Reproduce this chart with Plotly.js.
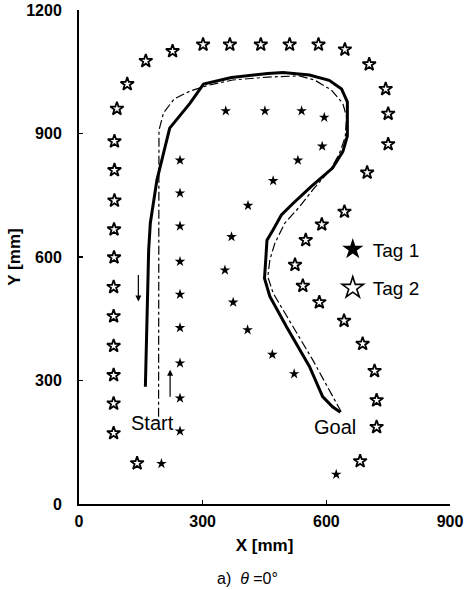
<!DOCTYPE html>
<html>
<head>
<meta charset="utf-8">
<script src="https://cdn.plot.ly/plotly-3.0.1.min.js"></script>
<style>html,body{margin:0;padding:0;background:#fff;}#chart{width:469px;height:590px;}</style>
</head>
<body>
<div id="chart"></div>
<script>
// Tag 1 (filled stars, inner row)
const tag1X = [200,245,245,245,245,245,245,245,245,245,356,451,540,595,590,531,471,410,370,354,374,409,469,522,624];
const tag1Y = [98,177,257,342,428,509,589,675,755,835,955,955,955,939,869,835,785,725,649,568,490,423,363,316,72];
// Tag 2 (open stars, outer row)
const tag2X = [141,84,84,84,84,84,84,85,85,86,86,86,92,117,162,227,301,366,441,511,581,645,704,744,750,750,699,644,589,550,524,543,583,643,688,717,722,722,682];
const tag2Y = [99,172,244,313,384,456,527,599,667,737,811,881,960,1020,1076,1100,1116,1116,1116,1116,1116,1104,1068,1008,948,874,805,710,679,641,581,530,490,445,389,323,252,187,104];
// Solid path (actual trajectory)
const pathX = [161,165,169,173,189,220,269,302,370,458,495,559,607,637,651,651,640,615,563,519,491,471,456,453,450,463,503,559,591,615,634];
const pathY = [285,455,617,682,787,913,973,1020,1036,1046,1048,1042,1029,1008,977,894,856,816,771,730,702,666,641,593,548,504,431,334,261,236,223];
// Dash-dot path
const refX = [193,193,194,205,231,269,313,373,458,535,571,612,640,649,646,632,612,567,535,499,475,463,458,471,519,567,636];
const refY = [212,763,908,950,984,1003,1017,1030,1037,1040,1030,1006,973,941,892,852,815,763,722,682,633,593,552,512,431,350,224];
// Axis ticks
const xTicks = [0,300,600,900];
const yTicks = [0,300,600,900,1200];
// Labels
const legendNames = ["Tag 1","Tag 2"];
const textLabels = [{t:"Start",x:179,y:197},{t:"Goal",x:622,y:187}];
const arrowsDef = [{x:144,y:492,ax:144,ay:560},{x:221,y:326,ax:221,ay:257}];

const font = "Liberation Sans, Arial, sans-serif";
const traces = [
  {x:pathX,y:pathY,mode:'lines',line:{color:'#000',width:3},showlegend:false,hoverinfo:'skip'},
  {x:refX,y:refY,mode:'lines',line:{color:'#000',width:1.2,dash:'dashdot'},showlegend:false,hoverinfo:'skip'},
  {x:tag1X,y:tag1Y,mode:'markers',marker:{symbol:'star',size:8,color:'#000'},showlegend:false},
  {x:tag2X,y:tag2Y,mode:'markers',marker:{symbol:'star-open',size:10,color:'#000',line:{width:1.8}},showlegend:false},
  {x:[null],y:[null],mode:'markers',name:legendNames[0],legendgroup:'a',marker:{symbol:'star',size:17,color:'#000'}},
  {x:[null],y:[null],mode:'markers',name:legendNames[1],legendgroup:'b',marker:{symbol:'star-open',size:17,color:'#000',line:{width:1.6}}}
];

const annotations = textLabels.map(l=>({x:l.x,y:l.y,xref:'x',yref:'y',text:l.t,showarrow:false,font:{family:font,size:20,color:'#000'}}));
arrowsDef.forEach(a=>annotations.push({x:a.x,y:a.y,ax:a.ax,ay:a.ay,xref:'x',yref:'y',axref:'x',ayref:'y',text:'',showarrow:true,arrowhead:2,arrowsize:1,arrowwidth:1.2,arrowcolor:'#000'}));
annotations.push({xref:'paper',yref:'paper',x:0.455,y:-0.15,yanchor:'middle',text:'a)&nbsp;&nbsp;<i>θ</i> =0°',showarrow:false,font:{family:font,size:16,color:'#000'}});

const layout = {
  width:469,height:590,
  margin:{l:78.5,r:18.5,t:10,b:86,pad:0},
  paper_bgcolor:'#fff',plot_bgcolor:'#fff',
  font:{family:font,color:'#000'},
  xaxis:{range:[0,900],tickvals:xTicks,ticks:'inside',ticklen:4,tickwidth:1.5,tickcolor:'#000',
    showline:true,linecolor:'#000',linewidth:2,showgrid:false,zeroline:false,
    tickfont:{family:font,size:16,weight:'bold',color:'#000'},ticklabelstandoff:2,
    title:{text:'X [mm]',font:{family:font,size:17,weight:'bold',color:'#000'},standoff:10}},
  yaxis:{range:[0,1200],tickvals:yTicks,ticks:'inside',ticklen:4,tickwidth:1.5,tickcolor:'#000',
    showline:true,linecolor:'#000',linewidth:2,showgrid:false,zeroline:false,
    tickfont:{family:font,size:16,weight:'bold',color:'#000'},ticklabelstandoff:12,
    title:{text:'Y [mm]',font:{family:font,size:17,weight:'bold',color:'#000'},standoff:1}},
  showlegend:true,
  legend:{x:0.684,y:0.554,xanchor:'left',yanchor:'top',bgcolor:'rgba(0,0,0,0)',font:{family:font,size:19,color:'#000'},tracegroupgap:11,itemsizing:'trace'},
  annotations:annotations
};
Plotly.newPlot('chart',traces,layout,{staticPlot:true,displayModeBar:false});
</script>
</body>
</html>
